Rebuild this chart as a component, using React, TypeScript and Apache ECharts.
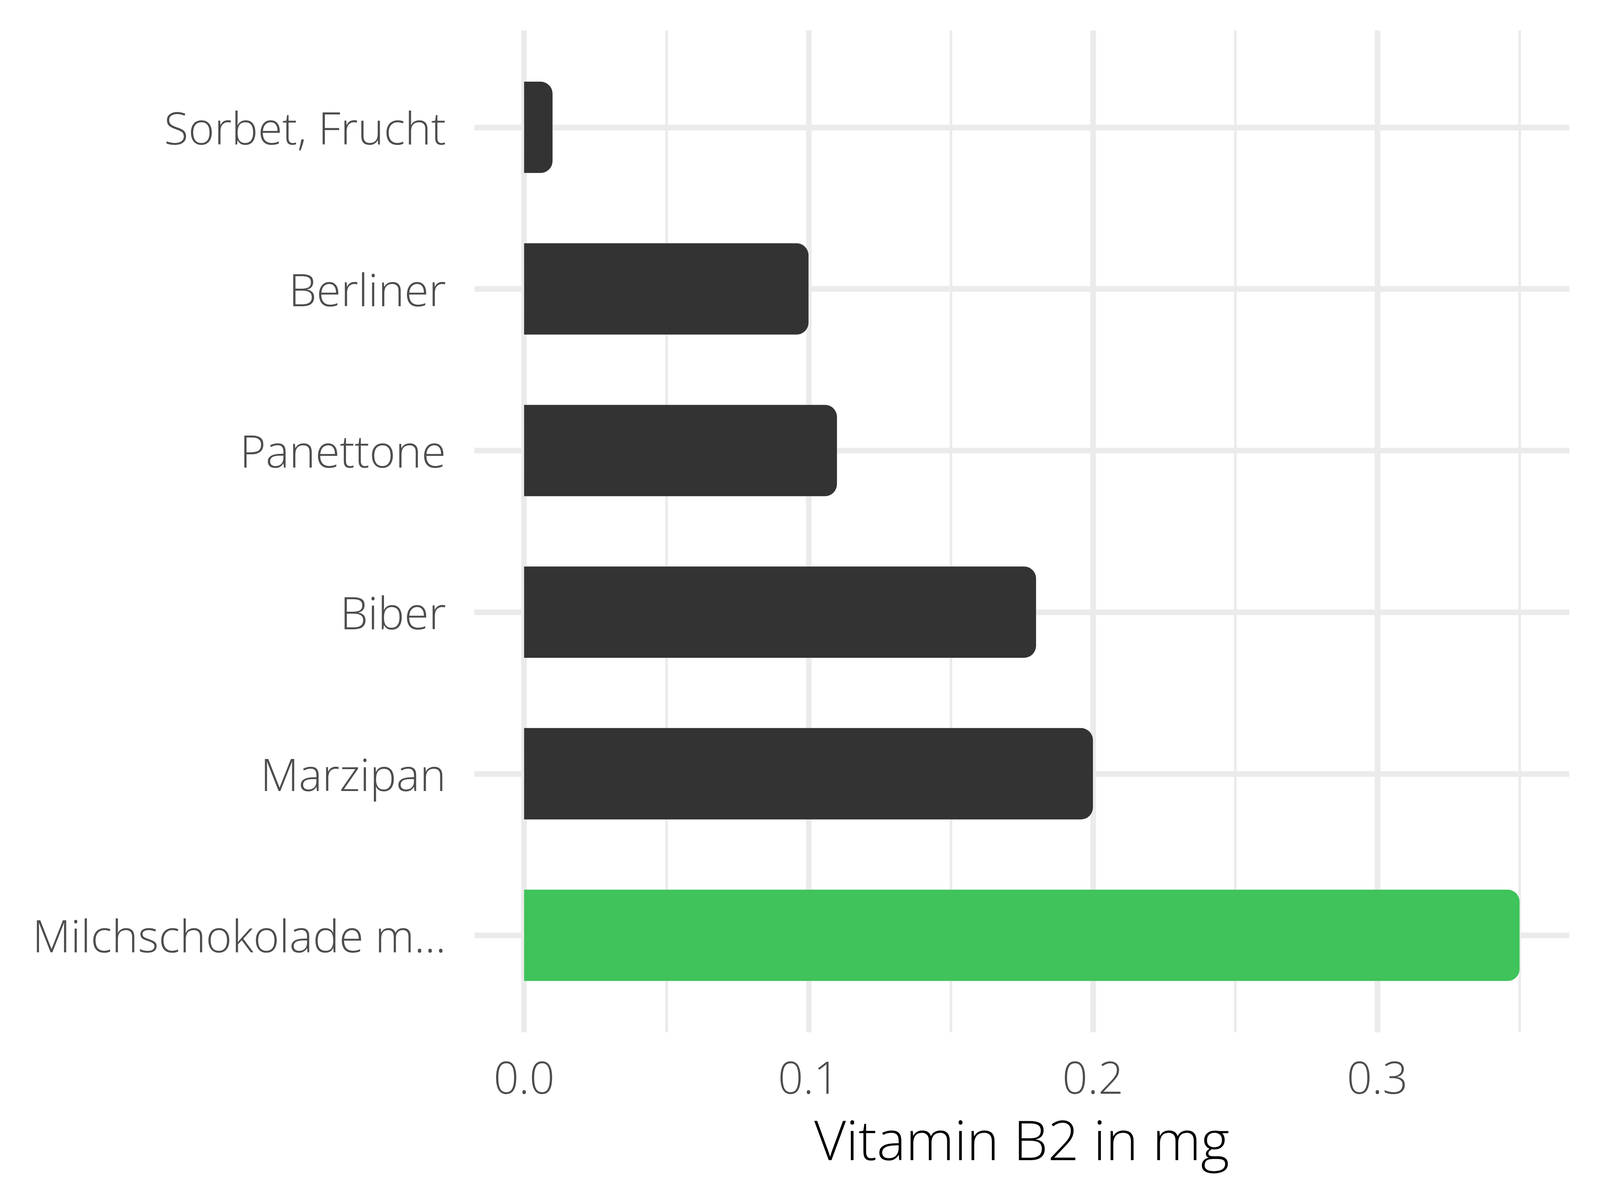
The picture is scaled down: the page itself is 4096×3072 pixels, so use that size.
import React, { useEffect, useRef } from "react";
import * as echarts from "echarts";

const categories = ["Sorbet, Frucht", "Berliner", "Panettone", "Biber", "Marzipan", "Milchschokolade m..."];
const values = [0.01, 0.1, 0.11, 0.18, 0.2, 0.35];
const highlighted = [false, false, false, false, false, true];
const tickValues = [0, 0.1, 0.2, 0.3];
const majorGrid = [0, 0.1, 0.2, 0.3];
const minorGrid = [0.05, 0.15, 0.25, 0.35];
const axisTitle = "Vitamin B2 in mg";

const DARK = "#333333";
const GREEN = "#3FC35A";
const GRID = "#EBEBEB";
const FONT = "Open Sans";
const WEIGHT = 300;

export default function App() {
  const ref = useRef<HTMLDivElement>(null);
  useEffect(() => {
    if (!ref.current) return;
    const chart = echarts.init(ref.current, null, { renderer: "svg" });
    const xMin = -0.0175;
    const xMax = 0.3675;
    const barW = 233.8;
    const r = 30.7;
    chart.setOption({
      animation: false,
      backgroundColor: "#ffffff",
      textStyle: { fontFamily: FONT, fontWeight: WEIGHT },
      grid: [
        { left: 1214.3, right: 78.5, top: 77.7, bottom: 429.2, containLabel: false },
        { left: 1214.3, right: 78.5, top: 119.1, bottom: 470.7, containLabel: false },
      ],
      xAxis: [
        {
          type: "value",
          gridIndex: 0,
          min: xMin,
          max: xMax,
          axisLine: { show: false },
          axisTick: { show: false },
          splitLine: { show: false },
          axisLabel: {
            customValues: tickValues,
            formatter: (v: number) => v.toFixed(1),
            fontSize: 113.5,
            color: "#4D4D4D",
            margin: 56,
            fontFamily: FONT,
            fontWeight: WEIGHT,
          },
          name: axisTitle,
          nameLocation: "middle",
          nameGap: 202,
          nameTextStyle: { fontSize: 140.5, color: "#000000", fontFamily: FONT, fontWeight: WEIGHT },
        },
        {
          type: "value",
          gridIndex: 1,
          min: xMin,
          max: xMax,
          show: false,
        },
      ],
      yAxis: [
        { type: "value", gridIndex: 0, min: 0, max: 1, show: false },
        {
          type: "category",
          gridIndex: 1,
          data: categories,
          inverse: true,
          axisLine: { show: false },
          axisTick: { show: false },
          splitLine: { show: false },
          axisLabel: { fontSize: 113.5, color: "#4D4D4D", margin: 72.6, fontFamily: FONT, fontWeight: WEIGHT },
        },
      ],
      series: [
        {
          type: "line",
          xAxisIndex: 0,
          yAxisIndex: 0,
          data: [],
          silent: true,
          markLine: {
            silent: true,
            z: 1,
            symbol: ["none", "none"],
            label: { show: false },
            emphasis: { disabled: true },
            lineStyle: { type: "solid", color: GRID },
            data: [
              ...majorGrid.map((v) => ({ xAxis: v, lineStyle: { width: 14.5, color: GRID, type: "solid" } })),
              ...minorGrid.map((v) => ({ xAxis: v, lineStyle: { width: 6.8, color: GRID, type: "solid" } })),
            ],
          },
        },
        {
          type: "bar",
          xAxisIndex: 1,
          yAxisIndex: 1,
          data: values,
          barWidth: barW,
          barGap: "-100%",
          silent: true,
          z: 3,
          itemStyle: { color: "#ffffff", borderColor: "#ffffff", borderWidth: 30.7, borderRadius: r },
          markLine: {
            silent: true,
            z: 1,
            symbol: ["none", "none"],
            label: { show: false },
            emphasis: { disabled: true },
            lineStyle: { type: "solid", color: GRID, width: 14.5 },
            data: categories.map((c) => ({ yAxis: c })),
          },
        },
        {
          type: "bar",
          xAxisIndex: 1,
          yAxisIndex: 1,
          data: values.map((v, i) => ({ value: v, itemStyle: { color: highlighted[i] ? GREEN : DARK } })),
          barWidth: barW,
          barGap: "-100%",
          silent: true,
          z: 4,
          itemStyle: { borderRadius: [0, r, r, 0] },
        },
      ],
    });
    return () => chart.dispose();
  }, []);
  return <div ref={ref} style={{ position: "fixed", left: 0, top: 0, width: 4096, height: 3072 }} />;
}
